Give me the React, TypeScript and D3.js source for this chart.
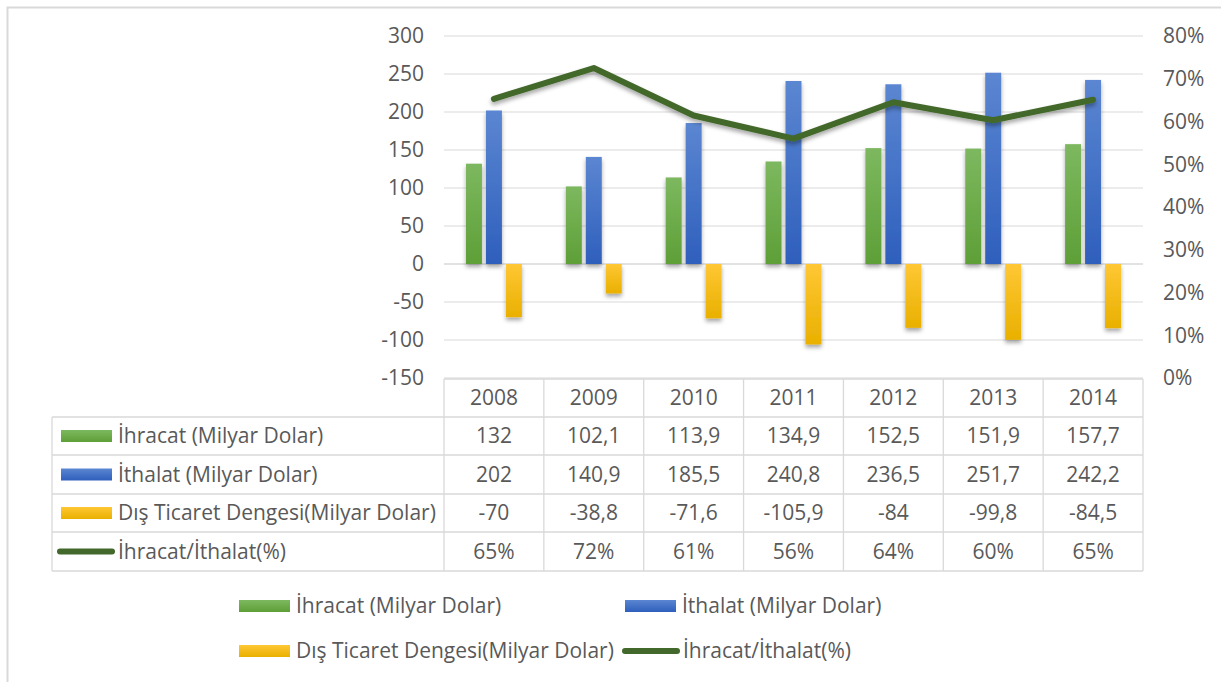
import React from "react";
import * as d3 from "d3";

const years = ["2008", "2009", "2010", "2011", "2012", "2013", "2014"];
const ihracat = [132, 102.1, 113.9, 134.9, 152.5, 151.9, 157.7];
const ithalat = [202, 140.9, 185.5, 240.8, 236.5, 251.7, 242.2];
const denge = [-70, -38.8, -71.6, -105.9, -84, -99.8, -84.5];
const oran = [0.653, 0.725, 0.614, 0.56, 0.645, 0.603, 0.651];
const oranLabels = ["65%", "72%", "61%", "56%", "64%", "60%", "65%"];
const leftTicks = [-150, -100, -50, 0, 50, 100, 150, 200, 250, 300];
const rightTicks = [0, 0.1, 0.2, 0.3, 0.4, 0.5, 0.6, 0.7, 0.8];
const seriesNames = [
  "İhracat (Milyar Dolar)",
  "İthalat (Milyar Dolar)",
  "Dış Ticaret Dengesi(Milyar Dolar)",
  "İhracat/İthalat(%)",
];

const fmt = (v: number) => String(v).replace(".", ",");

export default function App() {
  const W = 1221, H = 682;
  const x0 = 444, x1 = 1143, yTop = 36, yBot = 378;
  const x = d3.scaleBand<string>().domain(years).range([x0, x1]).padding(0);
  const inner = d3
    .scaleBand<string>()
    .domain(["a", "b", "c"])
    .range([0, x.bandwidth()])
    .paddingInner(0.2)
    .paddingOuter(1.1);
  const yL = d3.scaleLinear().domain([-150, 300]).range([yBot, yTop]);
  const yR = d3.scaleLinear().domain([0, 0.8]).range([yBot, yTop]);
  const line = d3
    .line<number>()
    .x((_, i) => (x(years[i]) as number) + x.bandwidth() / 2)
    .y((d) => yR(d));

  const txt = "#595959";
  const grid = "#d9d9d9";
  const font = "'Open Sans', sans-serif";
  const fs = 21;

  const barSeries = [
    { key: "a", vals: ihracat, fill: "url(#gGreen)" },
    { key: "b", vals: ithalat, fill: "url(#gBlue)" },
    { key: "c", vals: denge, fill: "url(#gYellow)" },
  ];

  const tableTop = 379;
  const rowLines = [417, 455, 494, 532, 571];
  const tableLeft = 52;

  const swatch = (i: number, sx: number, cy: number) => {
    const fills = ["url(#gGreen)", "url(#gBlue)", "url(#gYellow)"];
    if (i < 3)
      return <rect x={sx} y={cy - 6} width={51} height={12} fill={fills[i]} />;
    return (
      <line x1={sx - 1} x2={sx + 51} y1={cy} y2={cy} stroke="#43682b" strokeWidth={6} strokeLinecap="round" />
    );
  };

  const rowData = [ihracat.map(fmt), ithalat.map(fmt), denge.map(fmt), oranLabels];

  const legendItems = [
    { i: 0, sx: 239, cy: 606 },
    { i: 1, sx: 625, cy: 606 },
    { i: 2, sx: 239, cy: 651 },
    { i: 3, sx: 626, cy: 651 },
  ];

  return (
    <svg width={W} height={H} style={{ position: "absolute", left: 0, top: 0, background: "#fff" }} fontFamily={font}>
      <defs>
        <linearGradient id="gGreen" x1="0" y1="0" x2="0" y2="1">
          <stop offset="0" stopColor="#7db85f" />
          <stop offset="1" stopColor="#5e9f37" />
        </linearGradient>
        <linearGradient id="gBlue" x1="0" y1="0" x2="0" y2="1">
          <stop offset="0" stopColor="#5b86d1" />
          <stop offset="1" stopColor="#2e5fbc" />
        </linearGradient>
        <linearGradient id="gYellow" x1="0" y1="0" x2="0" y2="1">
          <stop offset="0" stopColor="#ffc734" />
          <stop offset="1" stopColor="#e9b000" />
        </linearGradient>
        <filter id="shadow" x="-50%" y="-50%" width="200%" height="200%">
          <feDropShadow dx="0" dy="3" stdDeviation="2" floodColor="#000" floodOpacity="0.35" />
        </filter>
      </defs>
      <rect x={7.5} y={7.5} width={W + 10} height={H + 10} fill="none" stroke="#d9d9d9" strokeWidth={2} />

      {leftTicks.map((t) => (
        <g key={t}>
          <line x1={x0} x2={x1} y1={yL(t)} y2={yL(t)} stroke={grid} strokeWidth={t === 0 ? 1.5 : 1} />
          <text x={424} y={yL(t)} dy="0.35em" textAnchor="end" fontSize={fs} fill={txt}>
            {t}
          </text>
        </g>
      ))}
      {rightTicks.map((t) => (
        <text key={t} x={1163} y={yR(t)} dy="0.35em" fontSize={fs} fill={txt}>
          {Math.round(t * 100) + "%"}
        </text>
      ))}

      <g filter="url(#shadow)">
        {barSeries.map((s) =>
          s.vals.map((v, i) => {
            const bx = (x(years[i]) as number) + (inner(s.key) as number);
            const y0 = yL(0), yv = yL(v);
            return (
              <rect
                key={s.key + i}
                x={bx}
                y={Math.min(y0, yv)}
                width={inner.bandwidth()}
                height={Math.abs(yv - y0)}
                fill={s.fill}
              />
            );
          })
        )}
      </g>

      <path d={line(oran) || ""} fill="none" stroke="#43682b" strokeWidth={6} strokeLinejoin="round" strokeLinecap="round" filter="url(#shadow)" />

      {/* data table */}
      <g stroke={grid} strokeWidth={1.3} fill="none">
        <line x1={x0} x2={x1} y1={tableTop} y2={tableTop} />
        {rowLines.map((ry) => (
          <line key={ry} x1={tableLeft} x2={x1} y1={ry} y2={ry} />
        ))}
        <line x1={tableLeft} x2={tableLeft} y1={rowLines[0]} y2={rowLines[4]} />
        {years.map((yr) => (
          <line key={yr} x1={x(yr) as number} x2={x(yr) as number} y1={tableTop} y2={rowLines[4]} />
        ))}
        <line x1={x1} x2={x1} y1={tableTop} y2={rowLines[4]} />
      </g>
      {years.map((yr) => (
        <text key={yr} x={(x(yr) as number) + x.bandwidth() / 2} y={(tableTop + rowLines[0]) / 2} dy="0.35em" textAnchor="middle" fontSize={fs} fill={txt}>
          {yr}
        </text>
      ))}
      {rowData.map((row, r) => {
        const cy = (rowLines[r] + rowLines[r + 1]) / 2;
        return (
          <g key={r}>
            {swatch(r, 61, cy)}
            <text x={118} y={cy} dy="0.35em" fontSize={fs} fill={txt}>
              {seriesNames[r]}
            </text>
            {row.map((v, i) => (
              <text key={i} x={(x(years[i]) as number) + x.bandwidth() / 2} y={cy} dy="0.35em" textAnchor="middle" fontSize={fs} fill={txt}>
                {v}
              </text>
            ))}
          </g>
        );
      })}

      {/* legend */}
      {legendItems.map((l) => (
        <g key={l.i}>
          {swatch(l.i, l.sx, l.cy)}
          <text x={l.sx + 57} y={l.cy} dy="0.35em" fontSize={fs} fill={txt}>
            {seriesNames[l.i]}
          </text>
        </g>
      ))}
    </svg>
  );
}
